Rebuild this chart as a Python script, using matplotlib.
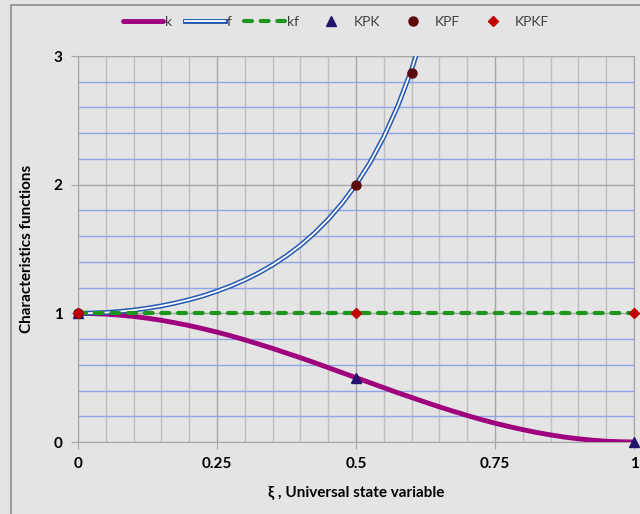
import matplotlib
matplotlib.use("Agg")
import matplotlib.pyplot as plt
import matplotlib.patches as patches
from matplotlib.lines import Line2D
from matplotlib.legend_handler import HandlerTuple

# values
xi = [0, 0.025, 0.05, 0.075, 0.1, 0.125, 0.15, 0.175, 0.2, 0.225, 0.25,
      0.275, 0.3, 0.325, 0.35, 0.375, 0.4, 0.425, 0.45, 0.475, 0.5,
      0.525, 0.55, 0.575, 0.6, 0.625, 0.65, 0.675, 0.7, 0.725, 0.75,
      0.775, 0.8, 0.825, 0.85, 0.875, 0.9, 0.925, 0.95, 0.975, 1.0]
k = [1.0, 0.998, 0.994, 0.986, 0.976, 0.962, 0.946, 0.926, 0.905, 0.880, 0.854,
     0.825, 0.794, 0.761, 0.727, 0.691, 0.655, 0.617, 0.578, 0.539, 0.5,
     0.461, 0.422, 0.383, 0.346, 0.309, 0.273, 0.239, 0.206, 0.175, 0.146,
     0.120, 0.096, 0.074, 0.055, 0.038, 0.025, 0.014, 0.006, 0.002, 0.0]
xi_f = xi[:26]
f = [1.0, 1.002, 1.006, 1.014, 1.025, 1.040, 1.058, 1.080, 1.106, 1.136, 1.172,
     1.213, 1.260, 1.314, 1.376, 1.447, 1.528, 1.622, 1.730, 1.855, 2.0,
     2.170, 2.371, 2.609, 2.894, 3.240]
xi_kf = [0, 1]
kf = [1, 1]

kpk_x = [0, 0.5, 1]
kpk_y = [1, 0.5, 0]
kpf_x = [0, 0.5, 0.6]
kpf_y = [1, 2, 2.87]
kpkf_x = [0, 0.5, 1]
kpkf_y = [1, 1, 1]

bg = "#E4E4E4"
magenta = "#9E007E"
blue = "#2458B0"
green = "#1E961E"
dash = (0, (1.9, 2.1))

fig = plt.figure(figsize=(6.4, 5.14), dpi=100, facecolor=bg)
plt.rcParams['font.family'] = ['Lato', 'DejaVu Sans']
ax = fig.add_axes([78/640, 72/514, 556/640, 386/514])
ax.set_facecolor(bg)

# outer chart border (left and top edges visible)
fig.patches.append(patches.Rectangle((10.5/640, -0.1), 1.2, 1.1 - 5.5/514,
                                     transform=fig.transFigure, fill=False,
                                     edgecolor="#8C8C8C", lw=1.2, zorder=0))

ax.set_xlim(0, 1)
ax.set_ylim(0, 3)
ax.set_xticks([0, 0.25, 0.5, 0.75, 1])
ax.set_xticklabels(["0", "0.25", "0.5", "0.75", "1"])
ax.set_yticks([0, 1, 2, 3])
ax.set_xticks([i * 0.05 for i in range(21)], minor=True)
ax.set_yticks([i * 0.2 for i in range(16)], minor=True)
ax.grid(which="major", color="#A6A6A6", lw=1.0, zorder=1)
ax.grid(which="minor", axis="x", color="#BEBEBE", lw=1.0, zorder=1)
ax.grid(which="minor", axis="y", color="#8FA4E8", lw=1.0, zorder=1)
ax.tick_params(which="minor", length=0)
ax.tick_params(which="major", direction="out", length=5, color="#A6A6A6",
               labelsize=11, pad=6)
for lab in ax.get_xticklabels() + ax.get_yticklabels():
    lab.set_fontweight("bold")
for s in ax.spines.values():
    s.set_color("#A6A6A6")

ax.plot(xi, k, color=magenta, lw=3.5, solid_capstyle="round", zorder=3)
ax.plot(xi_f, f, color=blue, lw=3.5, zorder=3)
ax.plot(xi_f, f, color="white", lw=1.3, zorder=3)
ax.plot(xi_kf, kf, color=green, lw=3, ls=dash, dash_capstyle="round", zorder=3)
ax.plot(kpk_x, kpk_y, ls="none", marker="^", ms=7, color="#25146E", zorder=5,
        clip_on=False)
ax.plot(kpf_x, kpf_y, ls="none", marker="o", ms=6.5, color="#5A0A0A", zorder=5,
        clip_on=False)
ax.plot(kpkf_x, kpkf_y, ls="none", marker="D", ms=5, color="#C00000", zorder=6,
        clip_on=False)

ax.set_xlabel("ξ , Universal state variable", fontsize=11, fontweight="bold",
              labelpad=10)
ax.set_ylabel("Characteristics functions", fontsize=11, fontweight="bold",
              labelpad=14)

h_k = Line2D([], [], color=magenta, lw=3.5, solid_capstyle="round")
h_f = (Line2D([], [], color=blue, lw=3.5), Line2D([], [], color="white", lw=1.3))
h_kf = Line2D([], [], color=green, lw=3, ls=dash, dash_capstyle="round")
h_kpk = Line2D([], [], ls="none", marker="^", ms=7, color="#25146E")
h_kpf = Line2D([], [], ls="none", marker="o", ms=6.5, color="#5A0A0A")
h_kpkf = Line2D([], [], ls="none", marker="D", ms=5, color="#C00000")
leg = fig.legend([h_k, h_f, h_kf, h_kpk, h_kpf, h_kpkf],
                 ["k", "f", "kf", "KPK", "KPF", "KPKF"],
                 handler_map={tuple: HandlerTuple(ndivide=1, pad=0)},
                 loc="center", bbox_to_anchor=(0.525, 1 - 22/514), ncol=6,
                 frameon=False, fontsize=10, handlelength=2.9,
                 handletextpad=0.15, columnspacing=0.9)
for t in leg.get_texts():
    t.set_color("#404040")

fig.savefig("out.png", dpi=100, facecolor=bg)
